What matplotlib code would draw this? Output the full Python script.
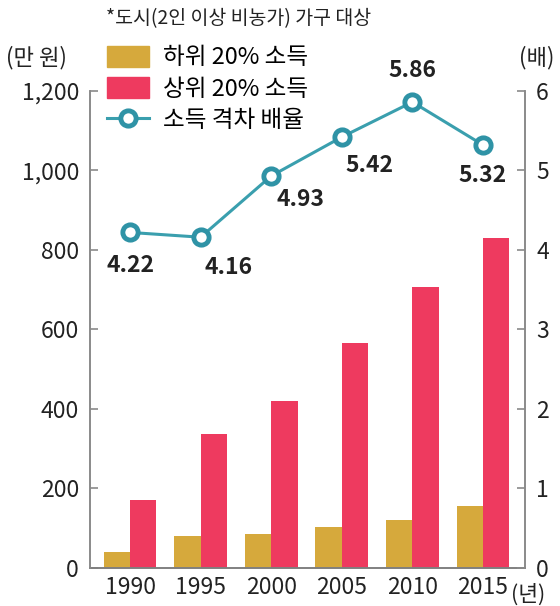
import numpy as np
import matplotlib
matplotlib.use('Agg')
import matplotlib.pyplot as plt
from matplotlib.patches import Patch
from matplotlib.lines import Line2D
from matplotlib.ticker import FuncFormatter

plt.rcParams['font.family'] = ['Noto Sans CJK KR', 'DejaVu Sans']

# 데이터
anos = ['1990', '1995', '2000', '2005', '2010', '2015']
renda_baixa = [41, 81, 85, 104, 120, 157]      # 하위 20% 소득 (만 원)
renda_alta = [172, 336, 420, 566, 707, 830]    # 상위 20% 소득 (만 원)
razao = [4.22, 4.16, 4.93, 5.42, 5.86, 5.32]   # 소득 격차 배율

cor_baixa = '#d6a93c'
cor_alta = '#ee3a5f'
cor_linha = '#3a9fae'
cor_eixo = '#8a8a8a'

fig = plt.figure(figsize=(5.6, 6.06), dpi=100)
ax = fig.add_axes([0.1607, 0.0627, 0.7768, 0.7873])
ax2 = ax.twinx()

x = np.arange(len(anos))
w = 0.375
ax.bar(x - w / 2, renda_baixa, w, color=cor_baixa, zorder=2)
ax.bar(x + w / 2, renda_alta, w, color=cor_alta, zorder=2)

ax2.plot(x, razao, color=cor_linha, lw=2.2, marker='o', ms=11,
         mfc='white', mec='#2f93a6', mew=3.5, zorder=3)

# rótulos dos valores (deslocamento em pixels)
offsets = [(0, -33), (28, -30), (29, -24), (28, -28), (0, 32), (0, -31)]
for xi, v, (dx, dy) in zip(x, razao, offsets):
    ax2.annotate(f'{v:.2f}', (xi, v), xytext=(dx, dy), textcoords='offset pixels',
                 ha='center', va='center', fontsize=16.5, fontweight='bold',
                 color='#222222')

ax.set_xlim(-0.567, 5.595)
ax.set_ylim(0, 1200)
ax2.set_ylim(0, 6)
ax.set_xticks(x)
ax.set_xticklabels(anos)
ax.set_yticks(range(0, 1201, 200))
ax.yaxis.set_major_formatter(FuncFormatter(lambda v, p: f'{int(v):,}'))
ax2.set_yticks(range(0, 7))

for a in (ax, ax2):
    a.spines['top'].set_visible(False)
    for s in ('left', 'right', 'bottom'):
        a.spines[s].set_color(cor_eixo)
        a.spines[s].set_linewidth(1.2)
    a.tick_params(axis='y', direction='in', length=6, width=1.2, color=cor_eixo,
                  labelsize=16.5, labelcolor='#222222', pad=8)
ax.spines['bottom'].set_color('#444444')
ax.tick_params(axis='x', length=0, labelsize=16.5, labelcolor='#222222', pad=6)

# legenda
handles = [Patch(color=cor_baixa), Patch(color=cor_alta),
           Line2D([], [], color=cor_linha, lw=2.2, marker='o', ms=11,
                  mfc='white', mec='#2f93a6', mew=3.5)]
labels = ['하위 20% 소득', '상위 20% 소득', '소득 격차 배율']
fig.legend(handles, labels, loc='upper left', bbox_to_anchor=(0.175, 0.94),
           frameon=False, fontsize=17, handlelength=1.75, handleheight=1.0,
           labelspacing=0.32, handletextpad=0.6, borderaxespad=0)

fig.text(0.19, 0.97, '*도시(2인 이상 비농가) 가구 대상', fontsize=14, va='center',
         color='#222222')
fig.text(0.01, 0.905, '(만 원)', fontsize=16, va='center', color='#222222')
fig.text(0.927, 0.905, '(배)', fontsize=16, va='center', color='#222222')
fig.text(0.913, 0.019, '(년)', fontsize=15.5, va='center', color='#222222')

fig.savefig('out.png', dpi=100)
